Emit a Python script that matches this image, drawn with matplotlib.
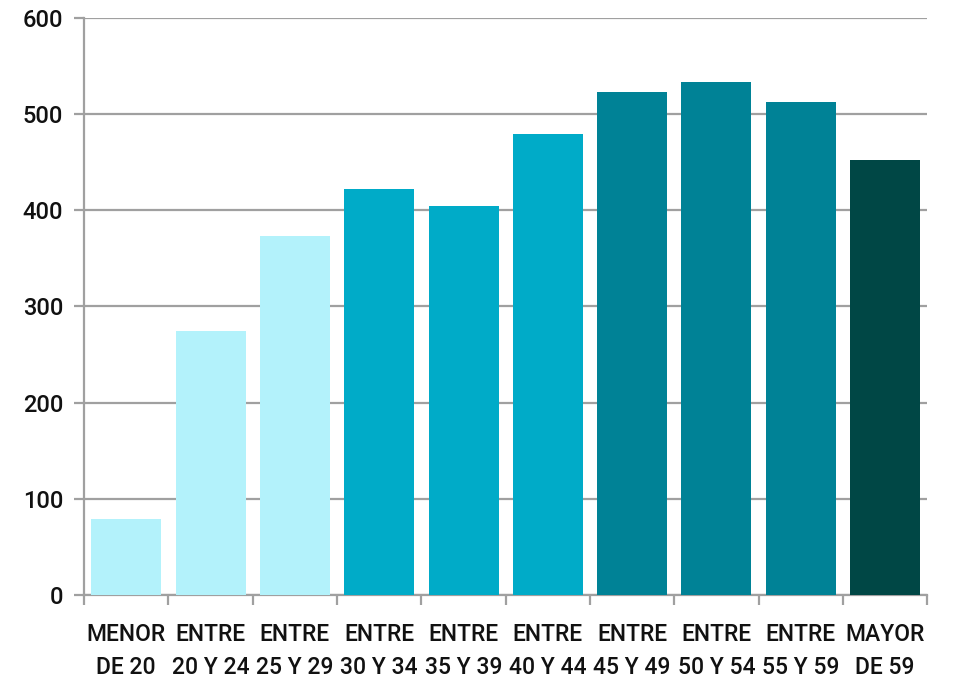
import numpy as np
import matplotlib.pyplot as plt

# Datos del gráfico
categorias = ['MENOR\nDE 20', 'ENTRE\n20 Y 24', 'ENTRE\n25 Y 29', 'ENTRE\n30 Y 34',
              'ENTRE\n35 Y 39', 'ENTRE\n40 Y 44', 'ENTRE\n45 Y 49', 'ENTRE\n50 Y 54',
              'ENTRE\n55 Y 59', 'MAYOR\nDE 59']
valores = [79, 275, 373, 422, 405, 479, 523, 533, 513, 452]
colores = ['#B3F2FB', '#B3F2FB', '#B3F2FB', '#00ABC8', '#00ABC8', '#00ABC8',
           '#008296', '#008296', '#008296', '#004745']

plt.rcParams['font.family'] = ['Roboto', 'DejaVu Sans']
plt.rcParams['font.weight'] = 'medium'

fig = plt.figure(figsize=(9.55, 6.78), dpi=100)
ax = fig.add_axes([0.088, 0.1224, 0.883, 0.8511])

x = np.arange(len(categorias))
ax.bar(x, valores, width=0.83, color=colores, zorder=3)

ax.set_xlim(-0.5, len(categorias) - 0.5)
ax.set_ylim(0, 600)
ax.set_yticks(np.arange(0, 601, 100))
ax.grid(axis='y', color='#A0A0A0', linewidth=1.6, zorder=0)

# etiquetas en el centro, marcas entre categorías
ax.set_xticks(x)
ax.set_xticklabels(categorias, fontsize=16.5, linespacing=1.55, color='#111111')
ax.tick_params(axis='x', length=0, pad=20)
ax.set_xticks(np.arange(-0.5, len(categorias), 1), minor=True)
ax.tick_params(axis='x', which='minor', length=7, width=1.6, color='#A0A0A0')
ax.tick_params(axis='y', length=7, width=1.6, color='#A0A0A0', labelsize=17, pad=8,
               labelcolor='#111111')

for s in ['top', 'right']:
    ax.spines[s].set_visible(False)
for s in ['left', 'bottom']:
    ax.spines[s].set_color('#A0A0A0')
    ax.spines[s].set_linewidth(1.6)

plt.savefig('out.png', dpi=100)
